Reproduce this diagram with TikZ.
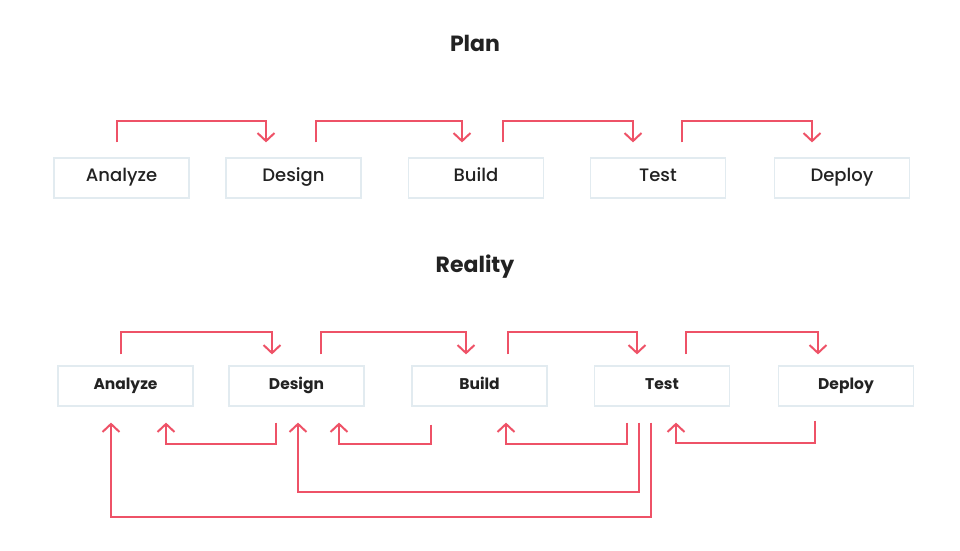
\documentclass[tikz,border=0pt]{standalone}
\usepackage{fontspec}
\setmainfont{Poppins}
\newfontfamily\midfont{Poppins}[UprightFont=*-Medium]
\usepackage{tikz}
\usetikzlibrary{calc,arrows.meta}

\definecolor{flowred}{HTML}{EE5267}
\definecolor{boxline}{HTML}{E2EBF0}
\definecolor{ink}{HTML}{222222}

\begin{document}
\begin{tikzpicture}[x=1pt,y=1pt,
    stage/.style={draw=boxline,line width=1.2pt,minimum width=135pt,minimum height=40pt,inner sep=0pt,text height=0.66em,text depth=0pt,text=ink,font=\midfont\fontsize{18}{20}\selectfont},
    rstage/.style={stage,font=\bfseries\fontsize{15.5}{18}\selectfont},
    title/.style={text=ink,font=\bfseries\fontsize{22}{24}\selectfont},
    flow/.style={draw=flowred,line width=2pt,-{Straight Barb[length=8pt,width=17pt,line width=2pt]}}]
    \useasboundingbox (0,0) rectangle (960,550);

    % Titles
    \node[title] (plan) at (475,507) {Plan};
    \node[title] (real) at (475,283) {Reality};

    % Plan row
    \node[stage] (pA) at (121.5,372) {Analyze};
    \node[stage] (pB) at (293.5,372) {Design};
    \node[stage] (pC) at (476,372) {Build};
    \node[stage] (pD) at (658,372) {Test};
    \node[stage] (pE) at (842,372) {Deploy};

    % Plan arrows
    \draw[flow] ([shift={(-4.5,15)}]pA.north) -- ++(0,21) -| ([shift={(-27.5,15)}]pB.north);
    \draw[flow] ([shift={(22.5,15)}]pB.north) -- ++(0,21) -| ([shift={(-14,15)}]pC.north);
    \draw[flow] ([shift={(27,15)}]pC.north) -- ++(0,21) -| ([shift={(-25,15)}]pD.north);
    \draw[flow] ([shift={(24,15)}]pD.north) -- ++(0,21) -| ([shift={(-30,15)}]pE.north);

    % Reality row
    \node[rstage] (rA) at (125.5,164) {Analyze};
    \node[rstage] (rB) at (296.5,164) {Design};
    \node[rstage] (rC) at (479.5,164) {Build};
    \node[rstage] (rD) at (662,164) {Test};
    \node[rstage] (rE) at (846,164) {Deploy};

    % Forward arrows
    \draw[flow] ([shift={(-4.5,11)}]rA.north) -- ++(0,22) -| ([shift={(-24.5,11)}]rB.north);
    \draw[flow] ([shift={(24.5,11)}]rB.north) -- ++(0,22) -| ([shift={(-13.5,11)}]rC.north);
    \draw[flow] ([shift={(28.5,11)}]rC.north) -- ++(0,22) -| ([shift={(-25,11)}]rD.north);
    \draw[flow] ([shift={(24,11)}]rD.north) -- ++(0,22) -| ([shift={(-28,11)}]rE.north);

    % Loops back
    \draw[flow] ([shift={(-20.5,-16)}]rB.south) -- ++(0,-21) -| ([shift={(40.5,-16)}]rA.south);
    \draw[flow] ([shift={(-48.5,-18)}]rC.south) -- ++(0,-19) -| ([shift={(42.5,-16)}]rB.south);
    \draw[flow] ([shift={(-35,-16)}]rD.south) -- ++(0,-21) -| ([shift={(26.5,-16)}]rC.south);
    \draw[flow] ([shift={(-23,-16)}]rD.south) -- ++(0,-69) -| ([shift={(1.5,-16)}]rB.south);
    \draw[flow] ([shift={(-11,-16)}]rD.south) -- ++(0,-94) -| ([shift={(-14.5,-16)}]rA.south);
    \draw[flow] ([shift={(-31,-14)}]rE.south) -- ++(0,-22) -| ([shift={(14,-16)}]rD.south);
\end{tikzpicture}
\end{document}
